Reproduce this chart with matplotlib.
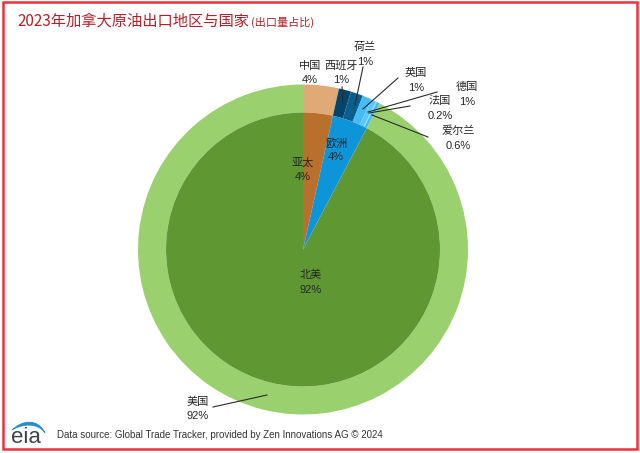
import matplotlib
matplotlib.use("Agg")
import matplotlib.pyplot as plt
from matplotlib.patches import Rectangle, PathPatch
from matplotlib.path import Path

plt.rcParams['font.family'] = ['Noto Sans CJK SC', 'DejaVu Sans']

# data
inner_names = ['亚太', '欧洲', '北美']
inner_labels = ['4%', '4%', '92%']
inner_values = [3.5, 4.2, 92.3]
outer_names = ['中国', '西班牙', '荷兰', '英国', '德国', '法国', '爱尔兰', '美国']
outer_labels = ['4%', '1%', '1%', '1%', '1%', '0.2%', '0.6%', '92%']
outer_values = [3.5, 1.2, 1.2, 0.9, 0.5, 0.1, 0.3, 92.3]

# style
inner_colors = ['#B9702C', '#0E95D9', '#5F9732']
outer_colors = ['#E0AA76', '#06456B', '#0A5E8C', '#45BBF8', '#5CC8FA', '#8AD8FB', '#45BBF8', '#9BD06F']
W, H = 640, 453
CX, CY = 303, H - 249.5
R_OUT, R_IN = 165, 137

fig = plt.figure(figsize=(6.4, 4.53), dpi=100)
ax = fig.add_axes([0, 0, 1, 1])
ax.pie(outer_values, colors=outer_colors, startangle=90, counterclock=False,
       center=(CX, CY), radius=R_OUT, frame=True,
       wedgeprops=dict(width=R_OUT - R_IN, linewidth=0))
ax.pie(inner_values, colors=inner_colors, startangle=90, counterclock=False,
       center=(CX, CY), radius=R_IN, frame=True, wedgeprops=dict(linewidth=0))
ax.set_xlim(0, W)
ax.set_ylim(0, H)
ax.axis('off')

def Y(y):
    return H - y

TXT = '#262626'
# label centres in image pixels
outer_pos = [(310, 66, 80), (341, 66, 80), (365, 47, 62), (416, 73, 88),
             (467, 87, 102), (440, 101, 116), (458, 131, 146), (198, 402, 416)]
inner_pos = [(303, 163, 177), (336, 143, 157), (311, 275, 290)]
for (n, l, p) in list(zip(outer_names, outer_labels, outer_pos)) + list(zip(inner_names, inner_labels, inner_pos)):
    ax.text(p[0], Y(p[1]), n, ha='center', va='center', fontsize=8, color=TXT)
    ax.text(p[0], Y(p[2]), l, ha='center', va='center', fontsize=8, color=TXT,
            family=['Liberation Sans'])

# leader lines
leaders = [((342, 87), (343, 103)), ((363, 67), (355, 105)),
           ((398, 78), (363, 109)), ((437, 92), (368, 112)),
           ((410, 106), (369, 113)), ((428, 137), (372, 115)),
           ((213, 407), (267, 395))]
for a, b in leaders:
    ax.plot([a[0], b[0]], [Y(a[1]), Y(b[1])], color='#2B2B2B', lw=0.8)

# title
ax.text(17, Y(21), '2023年加拿大原油出口地区与国家', fontsize=11, color='#B0232A', ha='left', va='center')
ax.text(251, Y(22), '(出口量占比)', fontsize=8, color='#B0232A', ha='left', va='center')

# footer
ax.text(57, Y(435), 'Data source: Global Trade Tracker, provided by Zen Innovations AG © 2024',
        fontsize=7.0, color='#333333', ha='left', va='center', family=['Liberation Sans'])
ax.text(26, Y(443), 'eia', fontsize=16, color='#3F444A', ha='center', va='baseline',
        family=['Liberation Sans'])
arc = Path([(12, Y(430)), (22, Y(420)), (38, Y(418)), (45, Y(433)),
            (38, Y(423)), (24, Y(423)), (12, Y(430))],
           [Path.MOVETO, Path.CURVE4, Path.CURVE4, Path.CURVE4,
            Path.CURVE4, Path.CURVE4, Path.CURVE4])
ax.add_patch(PathPatch(arc, fc='#1C8FCB', ec='#1C8FCB', lw=0.5))

# red frame
ax.add_patch(Rectangle((2.5, Y(448.5)), 634, 446.5, fill=False, ec='#F0303A', lw=1.8))

fig.savefig('out.png', dpi=100)
